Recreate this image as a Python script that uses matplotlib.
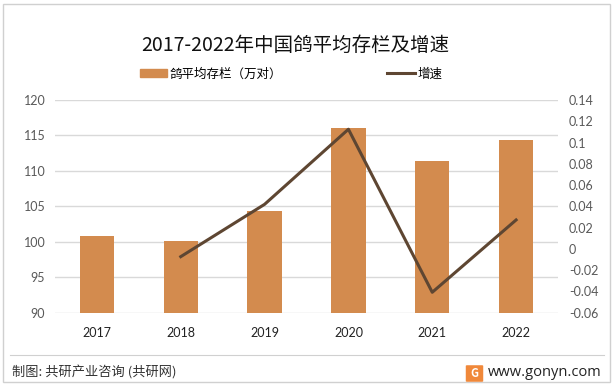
import matplotlib.pyplot as plt
import matplotlib.patches as mpatches
from matplotlib.lines import Line2D
from matplotlib.ticker import FuncFormatter

plt.rcParams['font.family'] = ['Noto Sans CJK SC', 'DejaVu Sans']

# data
years = ['2017', '2018', '2019', '2020', '2021', '2022']
stock = [100.8, 100.1, 104.3, 116.05, 111.4, 114.35]   # 万对
growth = [None, -0.0073, 0.0419, 0.1125, -0.0408, 0.0272]

bar_color = '#D38B4E'
line_color = '#5E4632'
grid_color = '#D9D9D9'
tick_color = '#595959'

fig = plt.figure(figsize=(6.14, 3.86), dpi=100)
fig.patch.set_facecolor('white')

# outer frame
fig.add_artist(mpatches.Rectangle((3 / 614, 4 / 386), 607 / 614, 378 / 386,
                                  transform=fig.transFigure, fill=False,
                                  edgecolor='#D0D0D0', linewidth=1))

ax = fig.add_axes([55 / 614, 1 - 312.7 / 386, 503 / 614, 212.7 / 386])
x = list(range(len(years)))
ax.bar(x, stock, width=0.41, color=bar_color, zorder=2)
ax.set_ylim(90, 120)
ax.set_yticks(range(90, 121, 5))
ax.set_xlim(-0.5, len(years) - 0.5)
ax.set_xticks(x)
ax.set_xticklabels(years, fontsize=9, color='#222222', family=['Lato', 'DejaVu Sans'])
ax.grid(axis='y', color=grid_color, linewidth=1, zorder=0)
ax.set_axisbelow(True)
for s in ax.spines.values():
    s.set_visible(False)
ax.tick_params(axis='both', length=0)
ax.tick_params(axis='x', pad=10)
ax.tick_params(axis='y', pad=7, labelsize=9, labelcolor=tick_color)
for lab in ax.get_yticklabels():
    lab.set_family(['Lato', 'DejaVu Sans'])

ax2 = ax.twinx()
gx = [i for i, g in zip(x, growth) if g is not None]
gy = [g for g in growth if g is not None]
ax2.plot(gx, gy, color=line_color, linewidth=2.2, zorder=3)
ax2.set_ylim(-0.06, 0.14)
ax2.set_yticks([-0.06 + 0.02 * i for i in range(11)])
ax2.yaxis.set_major_formatter(FuncFormatter(lambda v, p: f'{round(v, 2):g}'))
ax2.tick_params(axis='y', length=0, pad=8, labelsize=9, labelcolor=tick_color)
for lab in ax2.get_yticklabels():
    lab.set_family(['Lato', 'DejaVu Sans'])
for s in ax2.spines.values():
    s.set_visible(False)

fig.text(295 / 614, 1 - 45 / 386, '2017-2022年中国鸽平均存栏及增速',
         ha='center', va='center', fontsize=14, color='#111111')

handles = [mpatches.Patch(color=bar_color),
           Line2D([], [], color=line_color, linewidth=2.2)]
fig.legend(handles, ['鸽平均存栏（万对）', '增速'], loc='center',
           bbox_to_anchor=(291 / 614, 1 - 74 / 386), ncol=2, frameon=False,
           fontsize=9, handlelength=2.2, handleheight=0.6, handletextpad=0.2,
           columnspacing=8.4)

# footer
fig.add_artist(Line2D([10 / 614, 604 / 614], [1 - 355 / 386, 1 - 355 / 386],
                      transform=fig.transFigure, color='#D0D0D0', linewidth=0.8))
fig.text(12 / 614, 1 - 373 / 386, '制图: 共研产业咨询 (共研网)',
         ha='left', va='center', fontsize=9.5, color='#333333')
fig.add_artist(mpatches.FancyBboxPatch((467 / 614, 1 - 381 / 386), 15 / 614, 15 / 386,
                                       boxstyle='round,pad=0.002',
                                       transform=fig.transFigure,
                                       facecolor='#F0883A', edgecolor='none'))
fig.text(474.5 / 614, 1 - 373.5 / 386, 'G', ha='center', va='center',
         fontsize=8, color='white', fontweight='bold')
fig.text(488 / 614, 1 - 373 / 386, 'www.gonyn.com', ha='left', va='center',
         fontsize=10.5, color='#222222', family=['Open Sans', 'DejaVu Sans'])

fig.savefig('out.png', dpi=100)
